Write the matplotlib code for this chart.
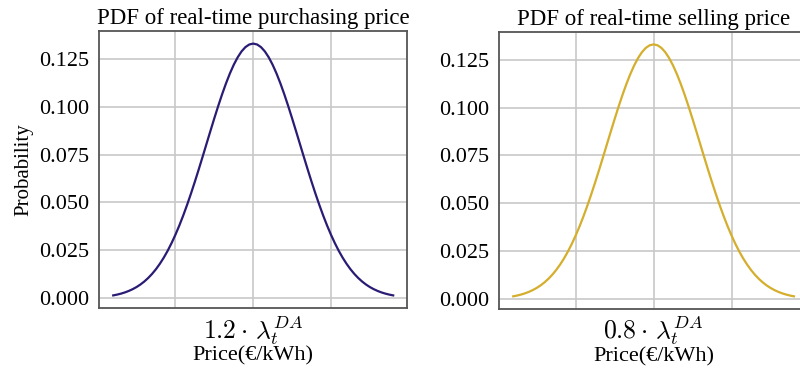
import matplotlib

matplotlib.use("Agg")
import matplotlib.pyplot as plt
from matplotlib.ticker import FormatStrFormatter

# Price deviation around the day-ahead reference (grid units)
price_offset = [
    -9.0, -8.75, -8.5, -8.25, -8.0, -7.75, -7.5, -7.25, -7.0, -6.75,
    -6.5, -6.25, -6.0, -5.75, -5.5, -5.25, -5.0, -4.75, -4.5, -4.25,
    -4.0, -3.75, -3.5, -3.25, -3.0, -2.75, -2.5, -2.25, -2.0, -1.75,
    -1.5, -1.25, -1.0, -0.75, -0.5, -0.25, 0.0, 0.25, 0.5, 0.75,
    1.0, 1.25, 1.5, 1.75, 2.0, 2.25, 2.5, 2.75, 3.0, 3.25,
    3.5, 3.75, 4.0, 4.25, 4.5, 4.75, 5.0, 5.25, 5.5, 5.75,
    6.0, 6.25, 6.5, 6.75, 7.0, 7.25, 7.5, 7.75, 8.0, 8.25,
    8.5, 8.75, 9.0,
]

purchase_pdf = [
    0.00148, 0.00189, 0.00240, 0.00303, 0.00380, 0.00473, 0.00584, 0.00717,
    0.00874, 0.01058, 0.01272, 0.01518, 0.01800, 0.02118, 0.02477, 0.02876,
    0.03316, 0.03797, 0.04317, 0.04875, 0.05467, 0.06088, 0.06733, 0.07395,
    0.08066, 0.08736, 0.09397, 0.10038, 0.10648, 0.11217, 0.11735, 0.12192,
    0.12579, 0.12889, 0.13115, 0.13252, 0.13298, 0.13252, 0.13115, 0.12889,
    0.12579, 0.12192, 0.11735, 0.11217, 0.10648, 0.10038, 0.09397, 0.08736,
    0.08066, 0.07395, 0.06733, 0.06088, 0.05467, 0.04875, 0.04317, 0.03797,
    0.03316, 0.02876, 0.02477, 0.02118, 0.01800, 0.01518, 0.01272, 0.01058,
    0.00874, 0.00717, 0.00584, 0.00473, 0.00380, 0.00303, 0.00240, 0.00189,
    0.00148,
]

selling_pdf = [
    0.00148, 0.00189, 0.00240, 0.00303, 0.00380, 0.00473, 0.00584, 0.00717,
    0.00874, 0.01058, 0.01272, 0.01518, 0.01800, 0.02118, 0.02477, 0.02876,
    0.03316, 0.03797, 0.04317, 0.04875, 0.05467, 0.06088, 0.06733, 0.07395,
    0.08066, 0.08736, 0.09397, 0.10038, 0.10648, 0.11217, 0.11735, 0.12192,
    0.12579, 0.12889, 0.13115, 0.13252, 0.13298, 0.13252, 0.13115, 0.12889,
    0.12579, 0.12192, 0.11735, 0.11217, 0.10648, 0.10038, 0.09397, 0.08736,
    0.08066, 0.07395, 0.06733, 0.06088, 0.05467, 0.04875, 0.04317, 0.03797,
    0.03316, 0.02876, 0.02477, 0.02118, 0.01800, 0.01518, 0.01272, 0.01058,
    0.00874, 0.00717, 0.00584, 0.00473, 0.00380, 0.00303, 0.00240, 0.00189,
    0.00148,
]

grid_ticks = [-5, 0, 5]
y_ticks = [0.0, 0.025, 0.05, 0.075, 0.1, 0.125]

plt.rcParams["font.family"] = ["Liberation Serif", "DejaVu Serif"]
plt.rcParams["mathtext.fontset"] = "cm"
plt.rcParams["font.size"] = 16


def draw_panel(ax, values, color, title, center_label, ylabel=None):
    ax.plot(price_offset, values, color=color, linewidth=1.6)
    ax.set_title(title, fontsize=16.5, pad=5)
    ax.set_xticks(grid_ticks)
    ax.set_xticklabels(["", center_label, ""])
    ax.set_yticks(y_ticks)
    ax.yaxis.set_major_formatter(FormatStrFormatter("%.3f"))
    ax.tick_params(length=0, labelsize=16)
    ax.tick_params(axis="x", pad=4, labelsize=18.5)
    ax.tick_params(axis="y", pad=7)
    ax.grid(True, color="#c8c8c8", linewidth=1.2)
    ax.set_axisbelow(True)
    for spine in ax.spines.values():
        spine.set_color("#555555")
        spine.set_linewidth(1.3)
    ax.set_xlabel("Price(€/kWh)", fontsize=16, labelpad=0)
    if ylabel:
        ax.set_ylabel(ylabel, fontsize=15, labelpad=4)


fig = plt.figure(figsize=(8, 3.74), dpi=100)
ax_buy = fig.add_axes([0.124, 0.1765, 0.385, 0.7406])
ax_sell = fig.add_axes([0.624, 0.174, 0.386, 0.741])

draw_panel(
    ax_buy, purchase_pdf, "#2a1b75",
    "PDF of real-time purchasing price",
    r"$1.2\cdot\,\lambda_t^{DA}$",
    ylabel="Probability",
)
draw_panel(
    ax_sell, selling_pdf, "#d4ae2c",
    "PDF of real-time selling price",
    r"$0.8\cdot\,\lambda_t^{DA}$",
)

fig.savefig("out.png", dpi=100)
